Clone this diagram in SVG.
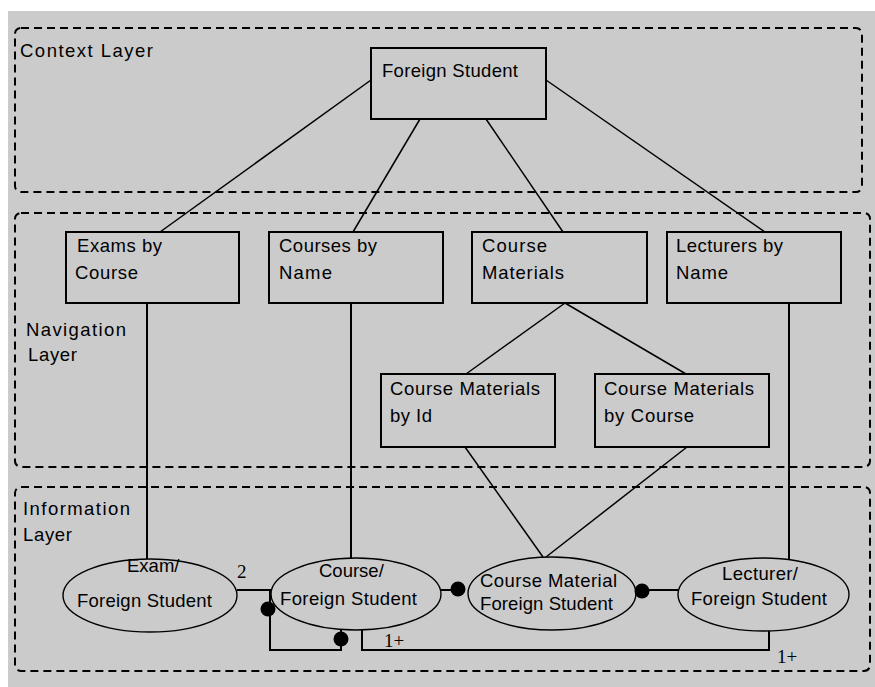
<svg xmlns="http://www.w3.org/2000/svg" width="875" height="687" viewBox="0 0 875 687">
<style>
  text { font-family: "Liberation Sans", Arial, sans-serif; font-size: 18.5px; fill: #000; }
  .num { font-family: "Liberation Serif", "Times New Roman", serif; font-size: 19px; }
  .layer { fill: none; stroke: #000; stroke-width: 2; stroke-dasharray: 8 5; }
  .box { fill: none; stroke: #000; stroke-width: 2; }
  .ell { fill: none; stroke: #000; stroke-width: 1.4; }
  .ln { fill: none; stroke: #000; stroke-width: 1.5; }
  .vl { fill: none; stroke: #000; stroke-width: 2; }
  .dot { fill: #000; }
</style>
<rect x="0" y="0" width="875" height="687" fill="#ffffff"/>
<rect x="8" y="11" width="867" height="676" fill="#cbcbcb"/>

<g id="context-layer">
  <rect class="layer" x="15" y="28" width="847" height="164" rx="6"/>
  <text x="20" y="57" textLength="133" lengthAdjust="spacing">Context Layer</text>
</g>
<g id="navigation-layer">
  <rect class="layer" x="15" y="213" width="855" height="254" rx="6"/>
  <text x="26" y="336" textLength="100" lengthAdjust="spacing">Navigation</text>
  <text x="28" y="361" textLength="49" lengthAdjust="spacing">Layer</text>
</g>
<g id="information-layer">
  <rect class="layer" x="15" y="487" width="855" height="184" rx="6"/>
  <text x="23" y="515" textLength="107" lengthAdjust="spacing">Information</text>
  <text x="23" y="541" textLength="49" lengthAdjust="spacing">Layer</text>
</g>

<g id="connectors">
  <line class="ln" x1="371" y1="80" x2="160" y2="232"/>
  <line class="ln" x1="420" y1="119" x2="353" y2="232"/>
  <line class="ln" x1="486" y1="119" x2="563" y2="232"/>
  <line class="ln" x1="546" y1="80" x2="765" y2="232"/>
  <line class="ln" x1="565" y1="303" x2="466" y2="374"/>
  <line class="ln" x1="565" y1="303" x2="686" y2="374"/>
  <line class="vl" x1="147" y1="303" x2="147" y2="559"/>
  <line class="vl" x1="351" y1="303" x2="351" y2="558"/>
  <line class="vl" x1="789" y1="303" x2="789" y2="560"/>
  <line class="ln" x1="465" y1="447" x2="543" y2="557"/>
  <line class="ln" x1="687" y1="447" x2="546" y2="557"/>
  <polyline class="vl" points="237,590 270,590 270,650 341,650 341,630"/>
  <polyline class="vl" points="362,630 362,650 769,650 769,631"/>
  <line class="vl" x1="441" y1="590" x2="460" y2="590"/>
  <line class="vl" x1="640" y1="590" x2="678" y2="590"/>
  <circle class="dot" cx="268" cy="609" r="7.5"/>
  <circle class="dot" cx="341" cy="639" r="7.5"/>
  <circle class="dot" cx="458" cy="589" r="7.5"/>
  <circle class="dot" cx="642" cy="591" r="7.5"/>
  <text class="num" x="237" y="578">2</text>
  <text class="num" x="384" y="647">1+</text>
  <text class="num" x="777" y="663">1+</text>
</g>

<g id="foreign-student">
  <rect class="box" x="371" y="48" width="175" height="71"/>
  <text x="382" y="77" textLength="136" lengthAdjust="spacing">Foreign Student</text>
</g>
<g id="exams-by-course">
  <rect class="box" x="66" y="232" width="173" height="71"/>
  <text x="77" y="252" textLength="85" lengthAdjust="spacing">Exams by</text>
  <text x="75" y="279" textLength="63" lengthAdjust="spacing">Course</text>
</g>
<g id="courses-by-name">
  <rect class="box" x="269" y="232" width="174" height="71"/>
  <text x="279" y="252" textLength="98" lengthAdjust="spacing">Courses by</text>
  <text x="279" y="279" textLength="53" lengthAdjust="spacing">Name</text>
</g>
<g id="course-materials">
  <rect class="box" x="472" y="232" width="175" height="71"/>
  <text x="482" y="252" textLength="65" lengthAdjust="spacing">Course</text>
  <text x="482" y="279" textLength="82" lengthAdjust="spacing">Materials</text>
</g>
<g id="lecturers-by-name">
  <rect class="box" x="667" y="232" width="174" height="71"/>
  <text x="676" y="252" textLength="107" lengthAdjust="spacing">Lecturers by</text>
  <text x="676" y="279" textLength="52" lengthAdjust="spacing">Name</text>
</g>
<g id="course-materials-by-id">
  <rect class="box" x="381" y="374" width="174" height="73"/>
  <text x="390" y="395" textLength="150" lengthAdjust="spacing">Course Materials</text>
  <text x="390" y="422" textLength="42" lengthAdjust="spacing">by Id</text>
</g>
<g id="course-materials-by-course">
  <rect class="box" x="595" y="374" width="174" height="73"/>
  <text x="604" y="395" textLength="150" lengthAdjust="spacing">Course Materials</text>
  <text x="604" y="422" textLength="90" lengthAdjust="spacing">by Course</text>
</g>

<g id="exam-foreign-student">
  <ellipse class="ell" cx="150" cy="595.5" rx="87" ry="36.5"/>
  <text x="127" y="572">Exam/</text>
  <text x="77" y="607" textLength="135" lengthAdjust="spacing">Foreign Student</text>
</g>
<g id="course-foreign-student">
  <ellipse class="ell" cx="356" cy="594" rx="85" ry="36"/>
  <text x="319" y="577">Course/</text>
  <text x="280" y="605" textLength="137" lengthAdjust="spacing">Foreign Student</text>
</g>
<g id="course-material-foreign-student">
  <ellipse class="ell" cx="552" cy="593.5" rx="84" ry="36.5"/>
  <text x="480" y="587" textLength="137" lengthAdjust="spacing">Course Material</text>
  <text x="480" y="610" textLength="133" lengthAdjust="spacing">Foreign Student</text>
</g>
<g id="lecturer-foreign-student">
  <ellipse class="ell" cx="763.5" cy="594.5" rx="85.5" ry="36.5"/>
  <text x="722" y="580" textLength="76" lengthAdjust="spacing">Lecturer/</text>
  <text x="691" y="605" textLength="136" lengthAdjust="spacing">Foreign Student</text>
</g>
</svg>
